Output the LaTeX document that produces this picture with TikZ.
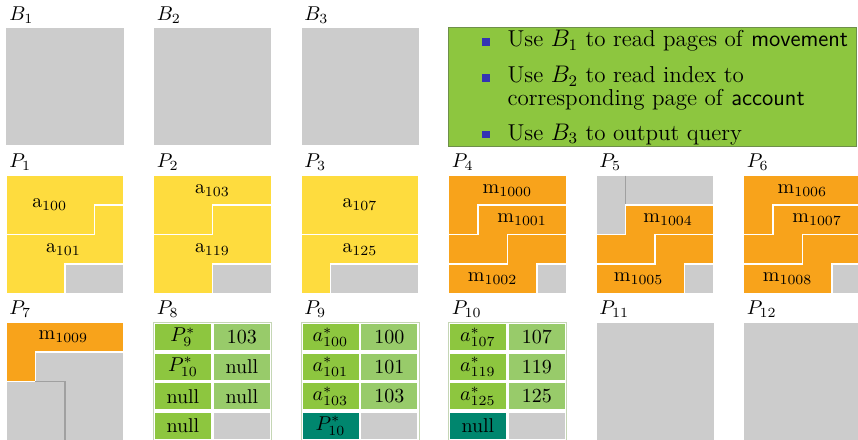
\documentclass[tikz,border=0pt]{standalone}
\usepackage{tikz}
\usepackage{amsmath}
\definecolor{pagegray}{HTML}{CCCCCC}
\definecolor{recyellow}{HTML}{FEDC3E}
\definecolor{recorange}{HTML}{F8A31B}
\definecolor{keygreen}{HTML}{8DC63F}
\definecolor{valgreen}{HTML}{98CB6A}
\definecolor{linkteal}{HTML}{00866E}
\definecolor{legendline}{HTML}{6E8F4A}
\definecolor{seamgray}{HTML}{A0A0A0}
\definecolor{framegreen}{HTML}{C5D6B5}
\definecolor{structblue}{HTML}{3333B3}

\begin{document}
\begin{tikzpicture}[x=14.75pt,y=-14.75pt,
		page/.style={fill=pagegray, draw=white, line width=0.4pt},
		rec/.style={draw=white, line width=0.8pt},
		yrec/.style={rec, fill=recyellow},
		orec/.style={rec, fill=recorange},
		free/.style={rec, fill=pagegray},
		seam/.style={draw=seamgray, line width=0.6pt},
		lbl/.style={anchor=base west, inner sep=0pt},
		tframe/.style={draw=framegreen, line width=0.4pt},
		keycell/.style={fill=keygreen},
		valcell/.style={fill=valgreen},
		linkcell/.style={fill=linkteal},
		bulletsq/.style={fill=structblue, minimum size=3.8pt, inner sep=0pt},
		item/.style={anchor=base west, inner sep=0pt, font=\fontsize{11.5pt}{13pt}\selectfont}]
		\useasboundingbox[fill=white] (0,0) rectangle (29.085,14.915);
		% buffers
		\begin{scope}[shift={(0.2,0.93)}]
			\filldraw[page] (0,0) rectangle (4,4);
			\node[lbl] (lB1) at (0.1,-0.25) {$B_1$};
		\end{scope}
		\begin{scope}[shift={(5.2,0.93)}]
			\filldraw[page] (0,0) rectangle (4,4);
			\node[lbl] (lB2) at (0.1,-0.25) {$B_2$};
		\end{scope}
		\begin{scope}[shift={(10.2,0.93)}]
			\filldraw[page] (0,0) rectangle (4,4);
			\node[lbl] (lB3) at (0.1,-0.25) {$B_3$};
		\end{scope}
		% legend
		\filldraw[fill=keygreen, draw=legendline, line width=0.8pt] (15.2,0.93) rectangle (29.03,4.97);
		\node[bulletsq] (s1) at (16.48,1.43) {};
		\node[item] (t1) at (17.19,1.59) {Use $B_1$ to read pages of \textsf{movement}};
		\node[bulletsq] (s2) at (16.48,2.65) {};
		\node[item] (t2) at (17.19,2.81) {Use $B_2$ to read index to};
		\node[item] (t2b) at (17.19,3.59) {corresponding page of \textsf{account}};
		\node[bulletsq] (s3) at (16.48,4.56) {};
		\node[item] (t3) at (17.19,4.75) {Use $B_3$ to output query};
		% account pages
		\begin{scope}[shift={(0.2,5.95)}]
			\filldraw[page] (0,0) rectangle (4,4);
			\filldraw[yrec] (0,0) -- (4,0) -- (4,1) -- (3,1) -- (3,2) -- (0,2) -- cycle;
			\filldraw[yrec] (3,1) -- (4,1) -- (4,3) -- (2,3) -- (2,4) -- (0,4) -- (0,2) -- (3,2) -- cycle;
			\filldraw[free] (2,3) rectangle (4,4);
			\node (a100) at (1.48,1) {$\mathrm{a}_{100}$};
			\node (a101) at (1.95,2.5) {$\mathrm{a}_{101}$};
			\node[lbl] (lP1) at (0.1,-0.28) {$P_1$};
		\end{scope}
		\begin{scope}[shift={(5.2,5.95)}]
			\filldraw[page] (0,0) rectangle (4,4);
			\filldraw[yrec] (0,0) -- (4,0) -- (4,1) -- (2,1) -- (2,2) -- (0,2) -- cycle;
			\filldraw[yrec] (2,1) -- (4,1) -- (4,3) -- (2,3) -- (2,4) -- (0,4) -- (0,2) -- (2,2) -- cycle;
			\filldraw[free] (2,3) rectangle (4,4);
			\node (a103) at (2,0.5) {$\mathrm{a}_{103}$};
			\node (a119) at (2,2.5) {$\mathrm{a}_{119}$};
			\node[lbl] (lP2) at (0.1,-0.28) {$P_2$};
		\end{scope}
		\begin{scope}[shift={(10.2,5.95)}]
			\filldraw[page] (0,0) rectangle (4,4);
			\filldraw[yrec] (0,0) rectangle (4,2);
			\filldraw[yrec] (0,2) -- (4,2) -- (4,3) -- (1,3) -- (1,4) -- (0,4) -- cycle;
			\filldraw[free] (1,3) rectangle (4,4);
			\node (a107) at (2,1) {$\mathrm{a}_{107}$};
			\node (a125) at (2,2.5) {$\mathrm{a}_{125}$};
			\node[lbl] (lP3) at (0.1,-0.28) {$P_3$};
		\end{scope}
		% movement pages
		\begin{scope}[shift={(15.2,5.95)}]
			\filldraw[page] (0,0) rectangle (4,4);
			\filldraw[orec] (0,0) -- (4,0) -- (4,1) -- (1,1) -- (1,2) -- (0,2) -- cycle;
			\filldraw[orec] (1,1) -- (4,1) -- (4,2) -- (2,2) -- (2,3) -- (0,3) -- (0,2) -- (1,2) -- cycle;
			\filldraw[orec] (2,2) -- (4,2) -- (4,3) -- (3,3) -- (3,4) -- (0,4) -- (0,3) -- (2,3) -- cycle;
			\filldraw[free] (3,3) rectangle (4,4);
			\node (m1000) at (2,0.5) {$\mathrm{m}_{1000}$};
			\node (m1001) at (2.5,1.5) {$\mathrm{m}_{1001}$};
			\node (m1002) at (1.5,3.5) {$\mathrm{m}_{1002}$};
			\node[lbl] (lP4) at (0.1,-0.28) {$P_4$};
		\end{scope}
		\begin{scope}[shift={(20.2,5.95)}]
			\filldraw[page] (0,0) rectangle (4,4);
			\filldraw[free] (0,0) -- (4,0) -- (4,1) -- (1,1) -- (1,2) -- (0,2) -- cycle;
			\draw[seam] (1,0) -- (1,1);
			\filldraw[orec] (1,1) -- (4,1) -- (4,2) -- (2,2) -- (2,3) -- (0,3) -- (0,2) -- (1,2) -- cycle;
			\filldraw[orec] (2,2) -- (4,2) -- (4,3) -- (3,3) -- (3,4) -- (0,4) -- (0,3) -- (2,3) -- cycle;
			\filldraw[free] (3,3) rectangle (4,4);
			\node (m1004) at (2.45,1.5) {$\mathrm{m}_{1004}$};
			\node (m1005) at (1.45,3.5) {$\mathrm{m}_{1005}$};
			\node[lbl] (lP5) at (0.1,-0.28) {$P_5$};
		\end{scope}
		\begin{scope}[shift={(25.2,5.95)}]
			\filldraw[page] (0,0) rectangle (4,4);
			\filldraw[orec] (0,0) -- (4,0) -- (4,1) -- (1,1) -- (1,2) -- (0,2) -- cycle;
			\filldraw[orec] (1,1) -- (4,1) -- (4,2) -- (2,2) -- (2,3) -- (0,3) -- (0,2) -- (1,2) -- cycle;
			\filldraw[orec] (2,2) -- (4,2) -- (4,3) -- (3,3) -- (3,4) -- (0,4) -- (0,3) -- (2,3) -- cycle;
			\filldraw[free] (3,3) rectangle (4,4);
			\node (m1006) at (2,0.5) {$\mathrm{m}_{1006}$};
			\node (m1007) at (2.5,1.5) {$\mathrm{m}_{1007}$};
			\node (m1008) at (1.5,3.5) {$\mathrm{m}_{1008}$};
			\node[lbl] (lP6) at (0.1,-0.28) {$P_6$};
		\end{scope}
		\begin{scope}[shift={(0.2,10.93)}]
			\filldraw[page] (0,0) rectangle (4,4);
			\filldraw[orec] (0,0) -- (4,0) -- (4,1) -- (1,1) -- (1,2) -- (0,2) -- cycle;
			\filldraw[free] (1,1) -- (4,1) -- (4,4) -- (0,4) -- (0,2) -- (1,2) -- cycle;
			\draw[seam] (1,2) -- (2,2) -- (2,4);
			\node (m1009) at (1.95,0.5) {$\mathrm{m}_{1009}$};
			\node[lbl] (lP7) at (0.1,-0.27) {$P_7$};
		\end{scope}
		% index pages
		\begin{scope}[shift={(5.2,10.93)}]
			\draw[tframe] (0,0) rectangle (4,4);
			\fill[keycell] (0.06,0.06) rectangle (1.96,0.94);
			\fill[keycell] (0.06,1.06) rectangle (1.96,1.94);
			\fill[keycell] (0.06,2.06) rectangle (1.96,2.94);
			\fill[keycell] (0.06,3.06) rectangle (1.96,3.94);
			\fill[valcell] (2.04,0.06) rectangle (3.94,0.94);
			\fill[valcell] (2.04,1.06) rectangle (3.94,1.94);
			\fill[valcell] (2.04,2.06) rectangle (3.94,2.94);
			\fill[pagegray] (2.04,3.06) rectangle (3.94,3.94);
			\node (k81) at (1,0.5) {$P^*_9$};
			\node (k82) at (1,1.5) {$P^*_{10}$};
			\node (k83) at (1,2.5) {null};
			\node (k84) at (1,3.5) {null};
			\node (v81) at (3,0.5) {103};
			\node (v82) at (3,1.5) {null};
			\node (v83) at (3,2.5) {null};
			\node[lbl] (lP8) at (0.1,-0.27) {$P_8$};
		\end{scope}
		\begin{scope}[shift={(10.2,10.93)}]
			\draw[tframe] (0,0) rectangle (4,4);
			\fill[keycell] (0.06,0.06) rectangle (1.96,0.94);
			\fill[keycell] (0.06,1.06) rectangle (1.96,1.94);
			\fill[keycell] (0.06,2.06) rectangle (1.96,2.94);
			\fill[linkcell] (0.06,3.06) rectangle (1.96,3.94);
			\fill[valcell] (2.04,0.06) rectangle (3.94,0.94);
			\fill[valcell] (2.04,1.06) rectangle (3.94,1.94);
			\fill[valcell] (2.04,2.06) rectangle (3.94,2.94);
			\fill[pagegray] (2.04,3.06) rectangle (3.94,3.94);
			\node (k91) at (1,0.5) {$a^*_{100}$};
			\node (k92) at (1,1.5) {$a^*_{101}$};
			\node (k93) at (1,2.5) {$a^*_{103}$};
			\node (k94) at (1,3.5) {$P^*_{10}$};
			\node (v91) at (3,0.5) {100};
			\node (v92) at (3,1.5) {101};
			\node (v93) at (3,2.5) {103};
			\node[lbl] (lP9) at (0.1,-0.27) {$P_9$};
		\end{scope}
		\begin{scope}[shift={(15.2,10.93)}]
			\draw[tframe] (0,0) rectangle (4,4);
			\fill[keycell] (0.06,0.06) rectangle (1.96,0.94);
			\fill[keycell] (0.06,1.06) rectangle (1.96,1.94);
			\fill[keycell] (0.06,2.06) rectangle (1.96,2.94);
			\fill[linkcell] (0.06,3.06) rectangle (1.96,3.94);
			\fill[valcell] (2.04,0.06) rectangle (3.94,0.94);
			\fill[valcell] (2.04,1.06) rectangle (3.94,1.94);
			\fill[valcell] (2.04,2.06) rectangle (3.94,2.94);
			\fill[pagegray] (2.04,3.06) rectangle (3.94,3.94);
			\node (k101) at (1,0.5) {$a^*_{107}$};
			\node (k102) at (1,1.5) {$a^*_{119}$};
			\node (k103) at (1,2.5) {$a^*_{125}$};
			\node (k104) at (1,3.5) {null};
			\node (v101) at (3,0.5) {107};
			\node (v102) at (3,1.5) {119};
			\node (v103) at (3,2.5) {125};
			\node[lbl] (lP10) at (0.1,-0.27) {$P_{10}$};
		\end{scope}
		% empty pages
		\begin{scope}[shift={(20.2,10.93)}]
			\filldraw[page] (0,0) rectangle (4,4);
			\node[lbl] (lP11) at (0.1,-0.27) {$P_{11}$};
		\end{scope}
		\begin{scope}[shift={(25.2,10.93)}]
			\filldraw[page] (0,0) rectangle (4,4);
			\node[lbl] (lP12) at (0.1,-0.27) {$P_{12}$};
		\end{scope}
\end{tikzpicture}
\end{document}
